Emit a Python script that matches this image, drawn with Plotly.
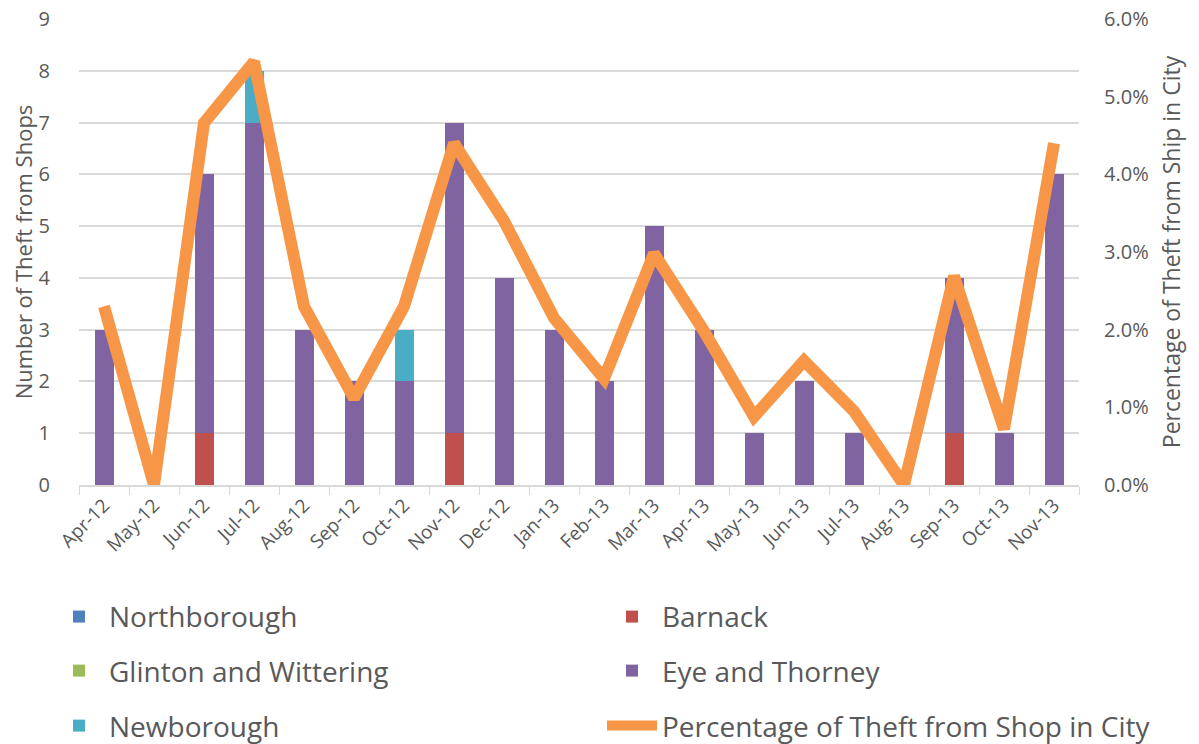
import plotly.graph_objects as go

months = ["Apr-12", "May-12", "Jun-12", "Jul-12", "Aug-12", "Sep-12", "Oct-12", "Nov-12",
          "Dec-12", "Jan-13", "Feb-13", "Mar-13", "Apr-13", "May-13", "Jun-13", "Jul-13",
          "Aug-13", "Sep-13", "Oct-13", "Nov-13"]
northborough = [0] * 20
barnack = [0, 0, 1, 0, 0, 0, 0, 1, 0, 0, 0, 0, 0, 0, 0, 0, 0, 1, 0, 0]
glinton = [0] * 20
eye_thorney = [3, 0, 5, 7, 3, 2, 2, 6, 4, 3, 2, 5, 3, 1, 2, 1, 0, 3, 1, 6]
newborough = [0, 0, 0, 1, 0, 0, 1, 0, 0, 0, 0, 0, 0, 0, 0, 0, 0, 0, 0, 0]
pct_city = [0.023, 0.0, 0.0466, 0.0545, 0.023, 0.0112, 0.023, 0.044, 0.034, 0.0215,
            0.0137, 0.0298, 0.0198, 0.0088, 0.016, 0.0095, 0.0, 0.0269, 0.0072, 0.044]

FONT = "'Open Sans', Lato, sans-serif"
GREY = "#595959"
GRID = "#D9D9D9"

fig = go.Figure()
bar_specs = [("Northborough", northborough, "#4F81BD", "legend"),
             ("Barnack", barnack, "#C0504D", "legend2"),
             ("Glinton and Wittering", glinton, "#9BBB59", "legend3"),
             ("Eye and Thorney", eye_thorney, "#8064A2", "legend4"),
             ("Newborough", newborough, "#4BACC6", "legend5")]
for name, vals, col, lg in bar_specs:
    fig.add_trace(go.Bar(x=months, y=vals, name=name, marker_color=col,
                         marker_line_width=0, legend=lg))
fig.add_trace(go.Scatter(x=months, y=pct_city, name="Percentage of Theft from Shop in City",
                         mode="lines", yaxis="y2", legend="legend6",
                         line=dict(color="#F79646", width=12, shape="linear")))

legend_common = dict(orientation="h", xanchor="left", yanchor="middle", itemwidth=50,
                     font=dict(size=28, color=GREY), bgcolor="rgba(0,0,0,0)")
col_x = [-0.030, 0.523]
row_y = [-0.283, -0.399, -0.517]

fig.update_layout(
    barmode="stack",
    bargap=0.62,
    width=1199, height=744,
    margin=dict(l=71, r=128, t=11, b=267, autoexpand=False),
    plot_bgcolor="white", paper_bgcolor="white",
    font=dict(family=FONT, color=GREY, size=18),
    xaxis=dict(type="category", tickangle=-45, tickfont=dict(size=19, color=GREY),
               showline=True, linecolor=GRID, linewidth=1.5,
               ticks="outside", tickson="boundaries", ticklen=8, tickcolor=GRID,
               showgrid=False, automargin=False),
    yaxis=dict(range=[0, 9], dtick=1, showgrid=True, gridcolor=GRID, gridwidth=1.5,
               zeroline=False, tickfont=dict(size=20, color=GREY), automargin=False,
               ticklabelstandoff=28, ticklabeloverflow="allow",
               title=dict(text="Number of Theft from Shops", font=dict(size=22, color=GREY),
                          standoff=6)),
    yaxis2=dict(range=[0, 0.06], dtick=0.01, tickformat=".1%", overlaying="y",
                side="right", showgrid=False, zeroline=False, automargin=False,
                tickfont=dict(size=20, color=GREY), ticklabelstandoff=24,
                ticklabeloverflow="allow",
                title=dict(text="Percentage of Theft from Ship in City",
                           font=dict(size=23, color=GREY), standoff=16)),
    legend=dict(x=col_x[0], y=row_y[0], **legend_common),
    legend2=dict(x=col_x[1], y=row_y[0], **legend_common),
    legend3=dict(x=col_x[0], y=row_y[1], **legend_common),
    legend4=dict(x=col_x[1], y=row_y[1], **legend_common),
    legend5=dict(x=col_x[0], y=row_y[2], **legend_common),
    legend6=dict(x=col_x[1], y=row_y[2], **legend_common),
    showlegend=True,
)

fig.write_html("out.html")
